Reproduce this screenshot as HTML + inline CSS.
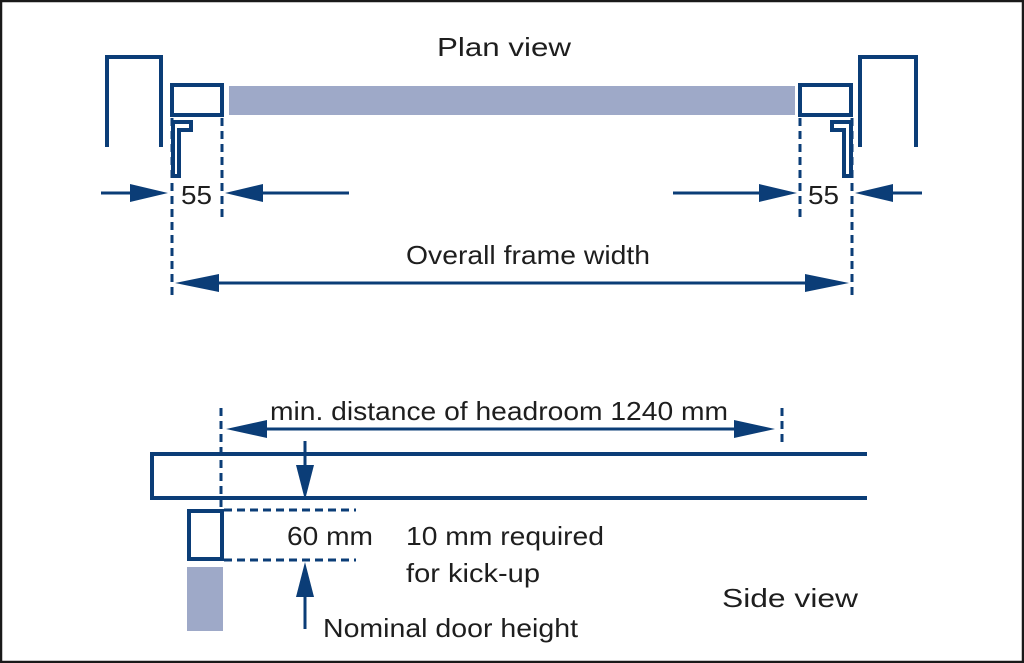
<!DOCTYPE html>
<html><head><meta charset="utf-8"><style>
html,body{margin:0;padding:0;background:#fff}
svg{display:block}
text{font-family:"Liberation Sans",sans-serif;font-size:26px;fill:#1e1e1e}
</style></head><body>
<svg width="1024" height="663" viewBox="0 0 1024 663" xmlns="http://www.w3.org/2000/svg">
<rect x="1" y="1" width="1022" height="661" fill="#fff" stroke="#1a1a1a" stroke-width="2.5"/>
<g fill="none" stroke="#0b3d77" stroke-width="4">
<path d="M107 147 V57 H161 V147"/>
<rect x="172" y="85" width="50" height="30"/>
<path d="M173 178 V122 H191 V130 H179 V176 H173"/>
<path d="M860 147 V57 H916 V147"/>
<rect x="800" y="85" width="51" height="30"/>
<path d="M851 178 V122 H832 V130 H844 V176 H851"/>
<path d="M867 454 H152 V498 H867"/>
<rect x="189" y="511" width="33" height="48"/>
</g>
<g fill="#9ea9c8">
<rect x="229" y="86" width="566" height="29"/>
<rect x="187" y="567" width="36" height="64"/>
</g>
<g fill="none" stroke="#0b3d77" stroke-width="3" stroke-dasharray="8,5">
<path d="M172 118 V298"/>
<path d="M222 118 V218"/>
<path d="M800 118 V218"/>
<path d="M852 118 V298"/>
<path d="M221 408 V511"/>
<path d="M782 408 V446"/>
<path d="M224 510 H356"/>
<path d="M224 560 H356"/>
</g>
<g stroke="#0b3d77" stroke-width="3">
<line x1="101" y1="193" x2="140" y2="193"/>
<line x1="250" y1="193" x2="349" y2="193"/>
<line x1="673" y1="193" x2="770" y2="193"/>
<line x1="880" y1="193" x2="922" y2="193"/>
<line x1="200" y1="283" x2="825" y2="283"/>
<line x1="250" y1="429" x2="750" y2="429"/>
<line x1="305" y1="441" x2="305" y2="475"/>
<line x1="305" y1="590" x2="305" y2="629"/>
</g>
<g fill="#0b3d77">
<polygon points="168,193 130,184 130,202"/>
<polygon points="225,193 263,184 263,202"/>
<polygon points="797,193 759,184 759,202"/>
<polygon points="855,193 893,184 893,202"/>
<polygon points="175,283 219,274 219,292"/>
<polygon points="849,283 805,274 805,292"/>
<polygon points="226,429 267,420 267,438"/>
<polygon points="775,429 734,420 734,438"/>
<polygon points="305,500 296,465 314,465"/>
<polygon points="305,562 296,597 314,597"/>
</g>
<text x="437" y="56" textLength="134" lengthAdjust="spacingAndGlyphs">Plan view</text>
<text x="181" y="204" textLength="31" lengthAdjust="spacingAndGlyphs">55</text>
<text x="808" y="204" textLength="31" lengthAdjust="spacingAndGlyphs">55</text>
<text x="406" y="264" textLength="244" lengthAdjust="spacingAndGlyphs">Overall frame width</text>
<text x="270" y="420" textLength="458" lengthAdjust="spacingAndGlyphs">min. distance of headroom 1240 mm</text>
<text x="287" y="545" textLength="86" lengthAdjust="spacingAndGlyphs">60 mm</text>
<text x="406" y="545" textLength="198" lengthAdjust="spacingAndGlyphs">10 mm required</text>
<text x="406" y="582" textLength="134" lengthAdjust="spacingAndGlyphs">for kick-up</text>
<text x="722" y="607" textLength="136" lengthAdjust="spacingAndGlyphs">Side view</text>
<text x="323" y="637" textLength="255" lengthAdjust="spacingAndGlyphs">Nominal door height</text>
</svg>
</body></html>
